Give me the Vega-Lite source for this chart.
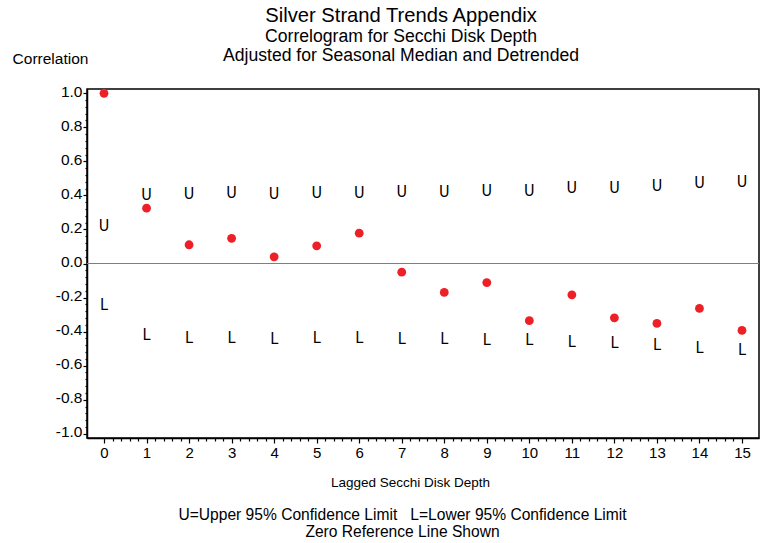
{
  "$schema": "https://vega.github.io/schema/vega-lite/v6.json",
  "width": 672,
  "height": 349,
  "autosize": "none",
  "padding": {"left": 87, "top": 89, "right": 10, "bottom": 105},
  "background": "white",
  "config": {
    "font": "Liberation Sans",
    "view": {"stroke": "black", "strokeWidth": 1.5},
    "axis": {"grid": false, "domainColor": "black", "tickColor": "black", "labelColor": "black", "titleColor": "black", "domainWidth": 1.5, "tickWidth": 1.2, "labelFont": "Liberation Sans", "titleFont": "Liberation Sans", "titleFontWeight": "normal", "labelOverlap": false, "labelFlush": false, "labelBound": false}
  },
  "title": {
    "text": "Silver Strand Trends Appendix",
    "subtitle": ["Correlogram for Secchi Disk Depth", "Adjusted for Seasonal Median and Detrended"],
    "font": "Liberation Sans",
    "subtitleFont": "Liberation Sans",
    "fontSize": 20.2,
    "subtitleFontSize": 17.6,
    "fontWeight": "normal",
    "color": "black",
    "subtitleColor": "black",
    "anchor": "middle",
    "dx": -22,
    "offset": -14,
    "subtitlePadding": 2,
    "subtitleLineHeight": 19
  },
  "data": {
    "values": [
      {"lag": 0, "r": 1.0, "upper": 0.220, "lower": -0.246},
      {"lag": 1, "r": 0.325, "upper": 0.400, "lower": -0.421},
      {"lag": 2, "r": 0.110, "upper": 0.411, "lower": -0.436},
      {"lag": 3, "r": 0.148, "upper": 0.415, "lower": -0.436},
      {"lag": 4, "r": 0.039, "upper": 0.411, "lower": -0.442},
      {"lag": 5, "r": 0.104, "upper": 0.417, "lower": -0.438},
      {"lag": 6, "r": 0.178, "upper": 0.417, "lower": -0.438},
      {"lag": 7, "r": -0.051, "upper": 0.421, "lower": -0.444},
      {"lag": 8, "r": -0.170, "upper": 0.421, "lower": -0.444},
      {"lag": 9, "r": -0.112, "upper": 0.425, "lower": -0.448},
      {"lag": 10, "r": -0.336, "upper": 0.428, "lower": -0.450},
      {"lag": 11, "r": -0.184, "upper": 0.442, "lower": -0.464},
      {"lag": 12, "r": -0.319, "upper": 0.446, "lower": -0.469},
      {"lag": 13, "r": -0.352, "upper": 0.456, "lower": -0.479},
      {"lag": 14, "r": -0.264, "upper": 0.471, "lower": -0.497},
      {"lag": 15, "r": -0.393, "upper": 0.478, "lower": -0.506}
    ]
  },
  "layer": [
    {
      "mark": {"type": "rule", "color": "#7f7f7f", "strokeWidth": 1.2},
      "encoding": {"y": {"datum": 0, "type": "quantitative", "axis": null}}
    },
    {
      "mark": {"type": "circle", "color": "#ee2027", "opacity": 1, "size": 78},
      "encoding": {
        "x": {
          "field": "lag", "type": "quantitative",
          "scale": {"domain": [-0.4, 15.4], "nice": false, "zero": false},
          "axis": {
            "orient": "bottom",
            "title": "Lagged Secchi Disk Depth",
            "titleFontSize": 13.5,
            "titleX": 323,
            "titleY": 48,
            "titleAlign": "center",
            "titleBaseline": "alphabetic",
            "labelFontSize": 15,
            "labelPadding": 2,
            "values": [0,0.2,0.4,0.6,0.8,1,1.2,1.4,1.6,1.8,2,2.2,2.4,2.6,2.8,3,3.2,3.4,3.6,3.8,4,4.2,4.4,4.6,4.8,5,5.2,5.4,5.6,5.8,6,6.2,6.4,6.6,6.8,7,7.2,7.4,7.6,7.8,8,8.2,8.4,8.6,8.8,9,9.2,9.4,9.6,9.8,10,10.2,10.4,10.6,10.8,11,11.2,11.4,11.6,11.8,12,12.2,12.4,12.6,12.8,13,13.2,13.4,13.6,13.8,14,14.2,14.4,14.6,14.8,15],
            "labelExpr": "abs(datum.value - round(datum.value)) < 0.001 ? format(round(datum.value), 'd') : ''",
            "tickSize": {"condition": {"test": "abs(datum.value - round(datum.value)) > 0.001", "value": 3}, "value": 5}
          }
        },
        "y": {
          "field": "r", "type": "quantitative",
          "scale": {"domain": [-1.025, 1.025], "nice": false, "zero": false},
          "axis": {
            "orient": "left",
            "title": "Correlation",
            "titleAngle": 0,
            "titleFontSize": 15.5,
            "titleX": -37,
            "titleY": -26,
            "titleAlign": "center",
            "titleBaseline": "alphabetic",
            "labelFontSize": 15.5,
            "labelPadding": 1,
            "labelOffset": -2,
            "values": [-1,-0.96,-0.92,-0.88,-0.84,-0.8,-0.76,-0.72,-0.68,-0.64,-0.6,-0.56,-0.52,-0.48,-0.44,-0.4,-0.36,-0.32,-0.28,-0.24,-0.2,-0.16,-0.12,-0.08,-0.04,0,0.04,0.08,0.12,0.16,0.2,0.24,0.28,0.32,0.36,0.4,0.44,0.48,0.52,0.56,0.6,0.64,0.68,0.72,0.76,0.8,0.84,0.88,0.92,0.96,1],
            "labelExpr": "abs(datum.value*5 - round(datum.value*5)) < 0.001 ? replace(format(datum.value, '.1f'), '\u2212', '-') : ''",
            "tickSize": {"condition": {"test": "abs(datum.value*5 - round(datum.value*5)) > 0.001", "value": 2}, "value": 4}
          }
        }
      }
    },
    {
      "mark": {"type": "text", "text": "U", "font": "'Liberation Sans Narrow', 'DejaVu Sans Condensed', 'Liberation Sans', sans-serif", "fontSize": 16, "baseline": "middle", "align": "center", "color": "black"},
      "encoding": {
        "x": {"field": "lag", "type": "quantitative", "axis": null},
        "y": {"field": "upper", "type": "quantitative", "axis": null}
      }
    },
    {
      "mark": {"type": "text", "text": "L", "font": "'Liberation Sans Narrow', 'DejaVu Sans Condensed', 'Liberation Sans', sans-serif", "fontSize": 16, "baseline": "middle", "align": "center", "color": "black"},
      "encoding": {
        "x": {
          "field": "lag", "type": "quantitative",
          "axis": {
            "orient": "bottom",
            "domain": false,
            "ticks": false,
            "labels": false,
            "title": ["U=Upper 95% Confidence Limit\u00a0\u00a0 L=Lower 95% Confidence Limit", "Zero Reference Line Shown"],
            "titleFontSize": 15.6,
            "titleLineHeight": 17,
            "titleX": 315,
            "titleY": 81,
            "titleAlign": "center",
            "titleBaseline": "alphabetic"
          }
        },
        "y": {"field": "lower", "type": "quantitative", "axis": null}
      }
    }
  ],
  "resolve": {"axis": {"x": "independent", "y": "independent"}}
}
